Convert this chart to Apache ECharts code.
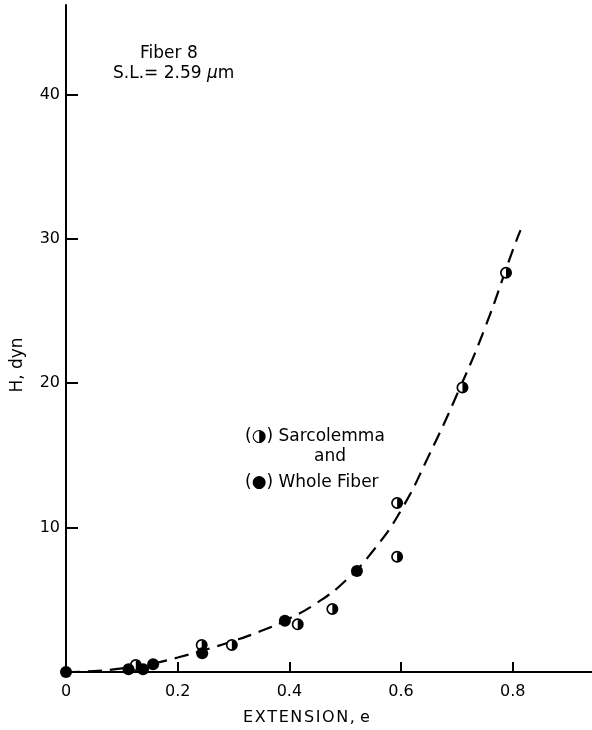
<!DOCTYPE html>
<html>
<head>
<meta charset="utf-8">
<script src="https://cdn.jsdelivr.net/npm/echarts@6/dist/echarts.min.js"></script>
<style>html,body{margin:0;padding:0;background:#fff;}#c{width:592px;height:730px;}</style>
</head>
<body>
<div id="c"></div>
<script>
// Data
var wholeFiber = [[0,0],[0.112,0.19],[0.138,0.19],[0.156,0.53],[0.244,1.29],[0.392,3.55],[0.521,6.99]];
var sarcolemma = [[0.125,0.48],[0.243,1.87],[0.297,1.87],[0.415,3.30],[0.477,4.36],[0.593,7.98],[0.593,11.7],[0.71,19.7],[0.788,27.65]];
var fitCurve = [[0,0],[0.05,0.06],[0.1,0.25],[0.15,0.55],[0.2,1.0],[0.25,1.55],[0.3,2.15],[0.35,2.85],[0.4,3.7],[0.45,4.8],[0.5,6.3],[0.55,8.4],[0.6,11.2],[0.65,15.0],[0.7,19.2],[0.75,23.8],[0.8,29.2],[0.814,30.6]];
var xTicks = ['0','0.2','0.4','0.6','0.8'];
var yTicks = ['', '10', '20', '30', '40'];

var halfPath = 'path://M10,0 A10,10 0 1,1 10,20 A10,10 0 1,1 10,0 Z M10,2.8 A7.2,7.2 0 1,0 10,17.2 A7.2,7.2 0 1,0 10,2.8 Z M10,0 A10,10 0 0,1 10,20 Z';
var font = 'DejaVu Sans';
var hs = '\u200A';

var chart = echarts.init(document.getElementById('c'), null, {renderer:'canvas'});
chart.setOption({
  backgroundColor:'#fff',
  animation:false,
  grid:{left:66, top:5, width:526, height:667, containLabel:false},
  xAxis:{
    type:'value', min:0, max:0.942, interval:0.2,
    axisLine:{show:true, onZero:false, lineStyle:{color:'#000', width:2}},
    axisTick:{show:true, inside:true, length:10, lineStyle:{color:'#000', width:2}},
    splitLine:{show:false},
    axisLabel:{color:'#000', fontFamily:font, fontSize:16, margin:12, showMaxLabel:false,
      formatter:function(v){ var i=Math.round(v/0.2); return (Math.abs(v-i*0.2)<1e-6 && i<xTicks.length)?xTicks[i]:''; }}
  },
  yAxis:{
    type:'value', min:0, max:46.19, interval:10,
    axisLine:{show:true, onZero:false, lineStyle:{color:'#000', width:2}},
    axisTick:{show:true, inside:true, length:12, lineStyle:{color:'#000', width:2}},
    splitLine:{show:false},
    axisLabel:{color:'#000', fontFamily:font, fontSize:16, margin:6, showMaxLabel:false,
      formatter:function(v){ var i=Math.round(v/10); return (Math.abs(v-i*10)<1e-6 && i<yTicks.length)?yTicks[i]:''; }}
  },
  series:[
    {type:'line', data:fitCurve, smooth:true, symbol:'none', z:1,
      lineStyle:{color:'#000', width:2.2, type:[14,8]}},
    {type:'scatter', data:sarcolemma, symbol:'circle', symbolSize:11, z:2,
      itemStyle:{color:'#fff', opacity:1}},
    {type:'scatter', data:sarcolemma, symbol:halfPath, symbolSize:12, z:3,
      itemStyle:{color:'#000', opacity:1}},
    {type:'scatter', data:wholeFiber, symbol:'circle', symbolSize:12, z:3,
      itemStyle:{color:'#000', opacity:1}}
  ],
  graphic:[
    {type:'text', left:140, top:45, style:{text:'Fiber 8', font:'17px "DejaVu Sans"', fill:'#000'}},
    {type:'text', left:113, top:65, style:{text:'S.L.= 2.59 {m|μ}m', font:'17px "DejaVu Sans"', fill:'#000',
      rich:{m:{font:'italic 17px "DejaVu Sans"', fill:'#000'}}}},
    {type:'text', left:245, top:428, style:{text:'(◑) Sarcolemma', font:'17px "DejaVu Sans"', fill:'#000'}},
    {type:'text', left:314, top:448, style:{text:'and', font:'17px "DejaVu Sans"', fill:'#000'}},
    {type:'text', left:245, top:474, style:{text:'(●) Whole Fiber', font:'17px "DejaVu Sans"', fill:'#000'}},
    {type:'text', left:243, top:710, style:{text:'EXTENSION,'.split('').join(hs) + ' e', font:'16px "DejaVu Sans"', fill:'#000'}},
    {type:'text', x:18, y:365, rotation:Math.PI/2, style:{text:'H, dyn', font:'17px "DejaVu Sans"', fill:'#000', align:'center', verticalAlign:'middle'}}
  ]
});
</script>
</body>
</html>
